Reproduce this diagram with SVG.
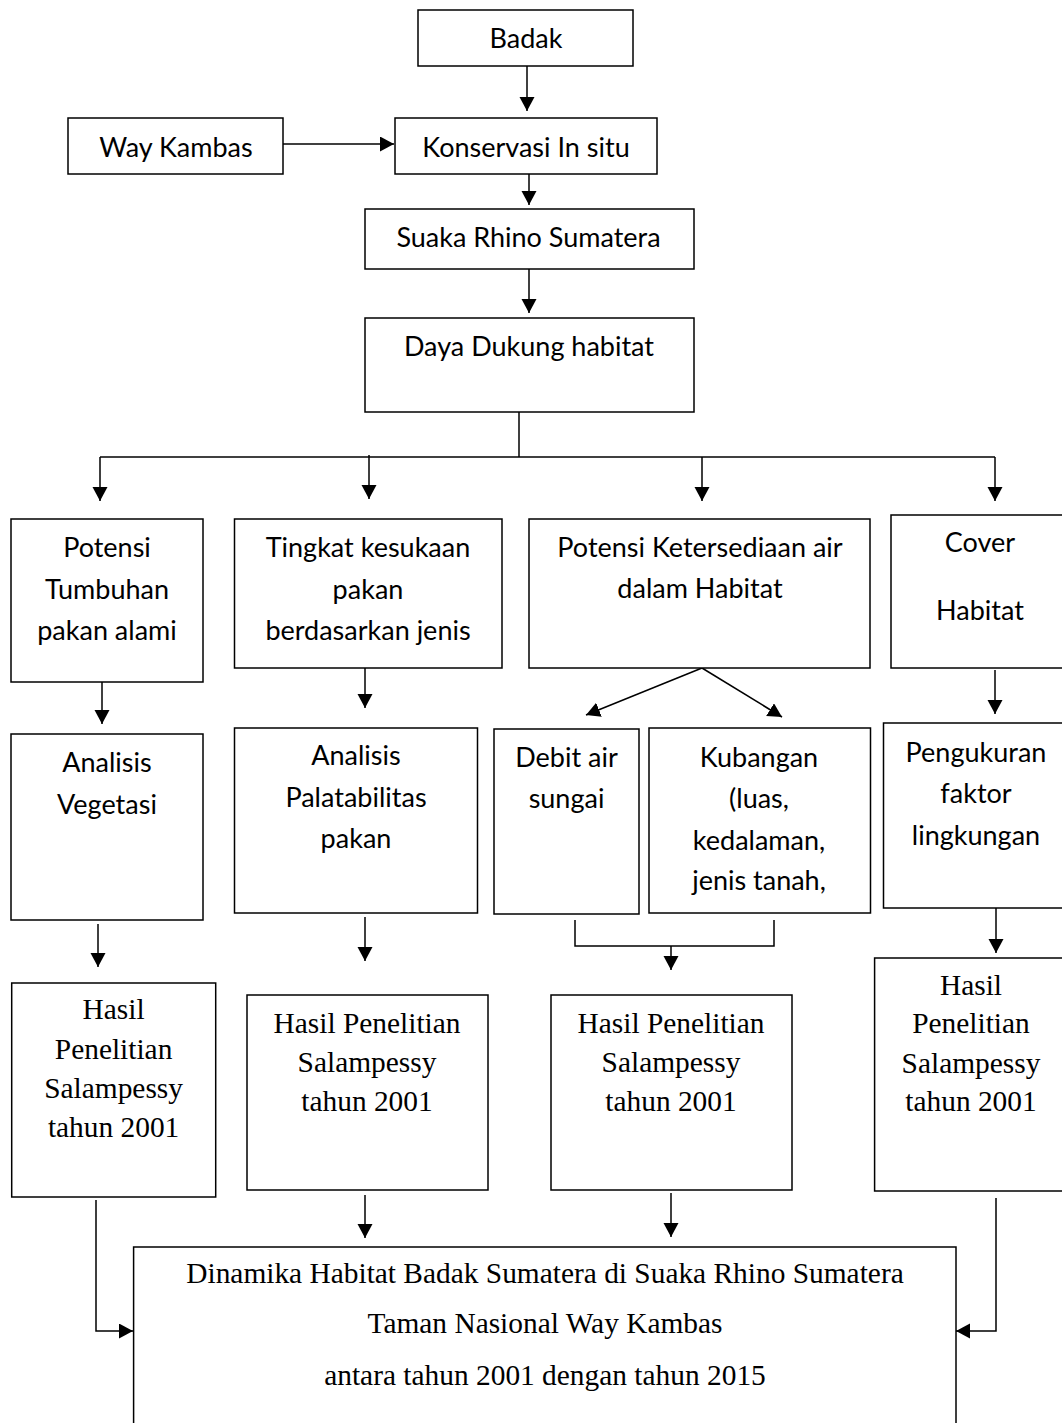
<svg xmlns="http://www.w3.org/2000/svg" width="1062" height="1423" viewBox="0 0 1062 1423">
<style>
rect{fill:#fff;stroke:#000;stroke-width:1.5}
.s{font-family:Lato,"Liberation Sans",sans-serif;font-size:27px;text-anchor:middle;fill:#000}
.t{font-family:"Liberation Serif","Times New Roman",serif;font-size:29.4px;text-anchor:middle;fill:#000}
#connectors path{fill:none;stroke:#000;stroke-width:1.5}
</style>
<defs>
<marker id="ah" markerUnits="userSpaceOnUse" markerWidth="16" markerHeight="16" refX="14" refY="7.5" orient="auto"><path d="M0,0 L14,7.5 L0,15 z" fill="#000"/></marker>
</defs>
<rect x="0" y="0" width="1062" height="1423" style="stroke:none"/>
<g id="connectors">
<path d="M527,66 V111" marker-end="url(#ah)"/>
<path d="M283,144 H394" marker-end="url(#ah)"/>
<path d="M529,174 V205" marker-end="url(#ah)"/>
<path d="M529,269 V313" marker-end="url(#ah)"/>
<path d="M519,412 V457"/>
<path d="M100,457 H995"/>
<path d="M100,457 V501" marker-end="url(#ah)"/>
<path d="M369,455 V499" marker-end="url(#ah)"/>
<path d="M702,457 V501" marker-end="url(#ah)"/>
<path d="M995,457 V501" marker-end="url(#ah)"/>
<path d="M102,682 V724" marker-end="url(#ah)"/>
<path d="M365,668 V708" marker-end="url(#ah)"/>
<path d="M702,668 L586,715" marker-end="url(#ah)"/>
<path d="M702,668 L782,717" marker-end="url(#ah)"/>
<path d="M995,670 V714" marker-end="url(#ah)"/>
<path d="M98,924 V967" marker-end="url(#ah)"/>
<path d="M365,917 V961" marker-end="url(#ah)"/>
<path d="M575,920 V946 H774 V920"/>
<path d="M671,946 V970" marker-end="url(#ah)"/>
<path d="M996,908 V953" marker-end="url(#ah)"/>
<path d="M365,1195 V1238" marker-end="url(#ah)"/>
<path d="M671,1193 V1237" marker-end="url(#ah)"/>
<path d="M96,1200 V1331 H133" marker-end="url(#ah)"/>
<path d="M996,1198 V1331 H956" marker-end="url(#ah)"/>
</g>
<g id="badak"><rect x="418" y="10" width="215" height="56"/><text class="s" x="526" y="48">Badak</text></g>
<g id="waykambas"><rect x="68" y="118" width="215" height="56"/><text class="s" x="176" y="157">Way Kambas</text></g>
<g id="konservasi"><rect x="395" y="118" width="262" height="56"/><text class="s" x="526" y="157">Konservasi In situ</text></g>
<g id="suaka"><rect x="365" y="209" width="329" height="60"/><text class="s" x="528.5" y="247">Suaka Rhino Sumatera</text></g>
<g id="daya"><rect x="365" y="318" width="329" height="94"/><text class="s" x="529" y="356">Daya Dukung habitat</text></g>
<g id="potensi"><rect x="11" y="519" width="192" height="163"/><text class="s" x="107" y="557">Potensi</text><text class="s" x="107" y="599">Tumbuhan</text><text class="s" x="107" y="640">pakan alami</text></g>
<g id="tingkat"><rect x="234.5" y="519" width="267.5" height="149"/><text class="s" x="368" y="557">Tingkat kesukaan</text><text class="s" x="368" y="599">pakan</text><text class="s" x="368" y="640">berdasarkan jenis</text></g>
<g id="ketersediaan"><rect x="529" y="519" width="341" height="149"/><text class="s" x="700" y="557">Potensi Ketersediaan air</text><text class="s" x="700" y="598">dalam Habitat</text></g>
<g id="cover"><rect x="891" y="515" width="180" height="153"/><text class="s" x="980" y="552">Cover</text><text class="s" x="980" y="620">Habitat</text></g>
<g id="analisisveg"><rect x="11" y="734" width="192" height="186"/><text class="s" x="107" y="772">Analisis</text><text class="s" x="107" y="814">Vegetasi</text></g>
<g id="analisispal"><rect x="234.5" y="728" width="243" height="185"/><text class="s" x="356" y="765">Analisis</text><text class="s" x="356" y="807">Palatabilitas</text><text class="s" x="356" y="848">pakan</text></g>
<g id="debit"><rect x="494" y="729" width="145" height="185"/><text class="s" x="566.5" y="767">Debit air</text><text class="s" x="566.5" y="808">sungai</text></g>
<g id="kubangan"><rect x="649" y="728" width="221.5" height="185"/><text class="s" x="759" y="767">Kubangan</text><text class="s" x="759" y="808">(luas,</text><text class="s" x="759" y="850">kedalaman,</text><text class="s" x="759" y="890">jenis tanah,</text></g>
<g id="pengukuran"><rect x="883.5" y="723" width="190" height="185"/><text class="s" x="976" y="762">Pengukuran</text><text class="s" x="976" y="803">faktor</text><text class="s" x="976" y="845">lingkungan</text></g>
<g id="hasil1"><rect x="11.7" y="983" width="204" height="214"/><text class="t" x="113.6" y="1019">Hasil</text><text class="t" x="113.6" y="1059">Penelitian</text><text class="t" x="113.6" y="1098">Salampessy</text><text class="t" x="113.6" y="1137">tahun 2001</text></g>
<g id="hasil2"><rect x="247" y="995" width="241" height="195"/><text class="t" x="367" y="1033">Hasil Penelitian</text><text class="t" x="367" y="1072">Salampessy</text><text class="t" x="367" y="1111">tahun 2001</text></g>
<g id="hasil3"><rect x="551" y="995" width="241" height="195"/><text class="t" x="671" y="1033">Hasil Penelitian</text><text class="t" x="671" y="1072">Salampessy</text><text class="t" x="671" y="1111">tahun 2001</text></g>
<g id="hasil4"><rect x="874.6" y="958" width="200" height="233"/><text class="t" x="971" y="995">Hasil</text><text class="t" x="971" y="1033">Penelitian</text><text class="t" x="971" y="1073">Salampessy</text><text class="t" x="971" y="1111">tahun 2001</text></g>
<g id="final"><rect x="133.6" y="1247" width="822.4" height="190"/><text class="t" x="545" y="1283">Dinamika Habitat Badak Sumatera di Suaka Rhino Sumatera</text><text class="t" x="545" y="1333">Taman Nasional Way Kambas</text><text class="t" x="545" y="1385">antara tahun 2001 dengan tahun 2015</text></g>
</svg>
